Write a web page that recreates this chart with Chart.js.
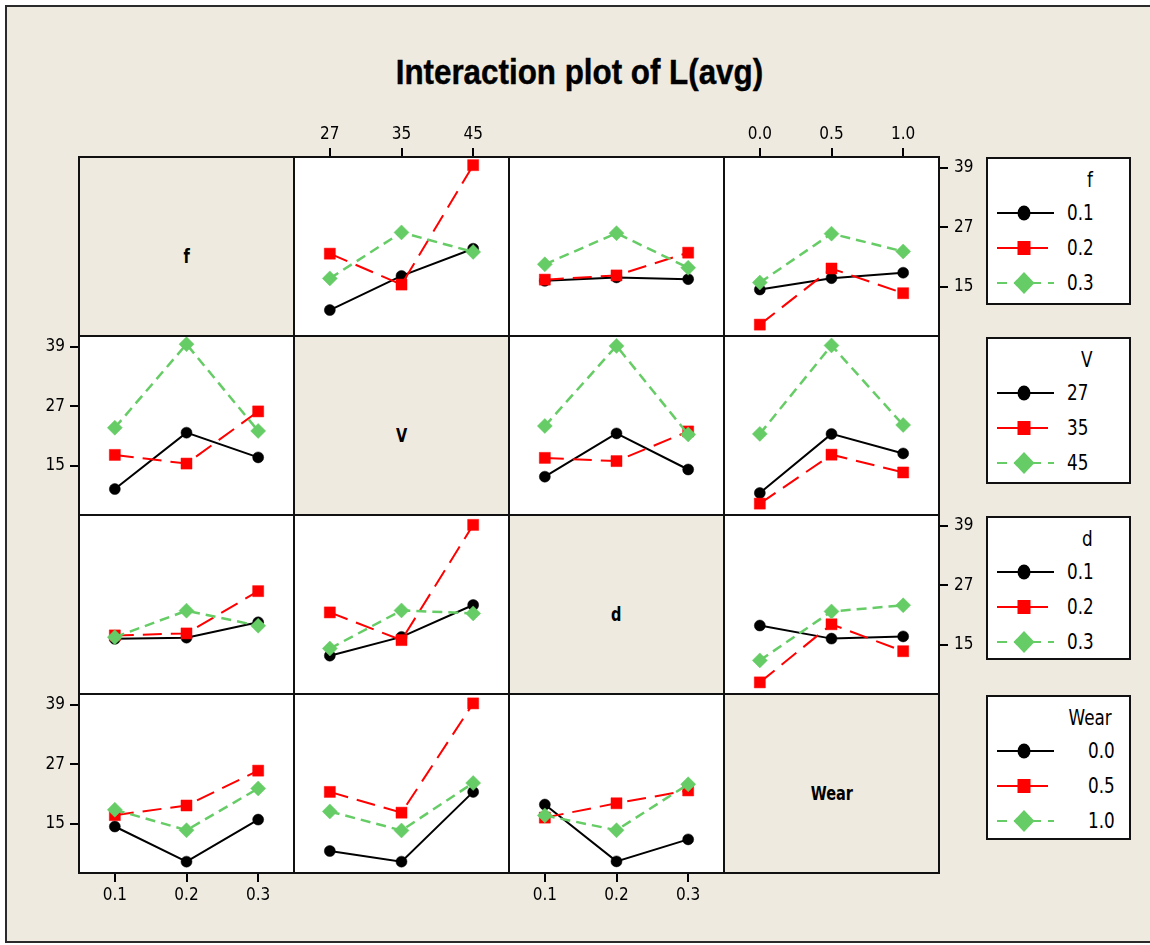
<!DOCTYPE html>
<html>
<head>
<meta charset="utf-8">
<title>Interaction plot of L(avg)</title>
<script src="https://cdn.jsdelivr.net/npm/chart.js@4.4.1/dist/chart.umd.min.js"></script>
<style>
  html, body { margin: 0; padding: 0; background: #ffffff; }
  #page { position: relative; width: 1150px; height: 945px; overflow: hidden; background: #ffffff; }
  #frame { position: absolute; left: 5px; top: 5px; width: 1170px; height: 938px; box-sizing: border-box;
           border: 2px solid #2a2a2a; background: #EEEAE0; }
  #title { position: absolute; left: 0; width: 1158px; top: 53px; text-align: center;
           font: bold 33px "Liberation Sans", Arial, sans-serif; color: #000; }
  #title span { display: inline-block; transform: scale(0.95, 1.05); -webkit-text-stroke: 0.4px #000; }
  .panel { position: absolute; }
  .outline { position: absolute; box-sizing: border-box; border: 2px solid #111; pointer-events: none; z-index: 5; }
  .diag { position: absolute; background: #EEEAE0; display: flex; align-items: center; justify-content: center;
          font: bold 19px "DejaVu Sans Condensed", "Liberation Sans", sans-serif; color: #000; }
  .diag span { position: relative; top: 9px; display: inline-block; transform: scaleX(0.85); }
  .legend { position: absolute; box-sizing: border-box; border: 2px solid #111; background: #fff;
            font: 22px "DejaVu Sans Condensed", "Liberation Sans", sans-serif; color: #000; z-index: 6; }
  .legend .ltitle { position: absolute; white-space: nowrap; transform: scaleX(0.85); transform-origin: right center; }
  .legend .litem { position: absolute; white-space: nowrap; line-height: 22px; transform: scaleX(0.85); transform-origin: left center; }
  .legend svg { position: absolute; left: 8px; }
</style>
</head>
<body>
<div id="page">
  <div id="frame"></div>
  <div id="title"><span>Interaction plot of L(avg)</span></div>
</div>
<script>
// Factors and their levels
const factorNames = ['f', 'V', 'd', 'Wear'];
const fLevels = ['0.1', '0.2', '0.3'];
const vLevels = ['27', '35', '45'];
const dLevels = ['0.1', '0.2', '0.3'];
const wearLevels = ['0.0', '0.5', '1.0'];

// Shared response axis
const yTicks = [15, 27, 39];
const yMin = 5.0;
const yMax = 41.2;

// Mean L(avg) per pair of factor levels: rows = levels of the first factor, columns = levels of the second
const meanFV = [
  [10.25, 17.15, 22.65],
  [21.65, 15.40, 39.55],
  [16.65, 25.95, 22.00]
];
const meanFD = [
  [16.15, 16.85, 16.50],
  [16.40, 17.25, 21.85],
  [19.50, 25.80, 18.80]
];
const meanFWear = [
  [14.40, 16.70, 17.80],
  [7.30, 18.65, 13.65],
  [15.80, 25.70, 22.10]
];
const meanVD = [
  [12.75, 21.50, 14.20],
  [16.55, 15.90, 21.90],
  [23.00, 39.20, 21.30]
];
const meanVWear = [
  [9.45, 21.40, 17.45],
  [7.30, 17.20, 13.60],
  [21.40, 39.30, 23.20]
];
const meanDWear = [
  [18.85, 16.20, 16.65],
  [7.35, 19.10, 13.65],
  [11.80, 21.70, 22.95]
];

const levels = [fLevels, vLevels, dLevels, wearLevels];
const pairTables = {
  '0-1': meanFV, '0-2': meanFD, '0-3': meanFWear,
  '1-2': meanVD, '1-3': meanVWear, '2-3': meanDWear
};

// Grid geometry of the matrix (cell edges)
const COL = [79, 294, 509, 724, 939];
const ROW = [157, 336, 515, 694, 873];
const AXIS = { top: 40, bottom: 40, left: 46, right: 46 };

const tickFont = '"DejaVu Sans Condensed", "Liberation Sans", sans-serif';

const seriesStyle = [
  { color: '#000000', dash: [], point: 'circle', radius: 5.5, width: 2, order: 2 },
  { color: '#FF0000', dash: [19, 9], point: 'rect', radius: 7.8, width: 2, order: 1 },
  { color: '#66CC66', dash: [10, 6], point: 'rectRot', radius: 7.5, width: 2.5, order: 0 }
];

function transpose(m) { return m[0].map((_, j) => m.map(r => r[j])); }

// rows of the returned matrix are the traced levels, columns the x levels
function seriesFor(traceIdx, xIdx) {
  if (traceIdx < xIdx) return pairTables[traceIdx + '-' + xIdx];
  return transpose(pairTables[xIdx + '-' + traceIdx]);
}

const page = document.getElementById('page');

function addOutline(x0, y0, x1, y1) {
  const o = document.createElement('div');
  o.className = 'outline';
  o.style.left = (x0 - 1) + 'px';
  o.style.top = (y0 - 1) + 'px';
  o.style.width = (x1 - x0 + 2) + 'px';
  o.style.height = (y1 - y0 + 2) + 'px';
  page.appendChild(o);
}

function makePanel(r, c) {
  const x0 = COL[c], x1 = COL[c + 1], y0 = ROW[r], y1 = ROW[r + 1];
  const showTop = r === 0 && (c === 1 || c === 3);
  const showBottom = r === 3 && (c === 0 || c === 2);
  const showLeft = c === 0 && (r === 1 || r === 3);
  const showRight = c === 3 && (r === 0 || r === 2);
  const xAxis = showTop || showBottom;
  const yAxis = showLeft || showRight;

  const padL = showLeft ? AXIS.left : 0;
  const padR = showRight ? AXIS.right : 0;
  const padT = showTop ? AXIS.top : 0;
  const padB = showBottom ? AXIS.bottom : 0;

  const w = x1 - x0 + padL + padR;
  const h = y1 - y0 + padT + padB;
  const canvas = document.createElement('canvas');
  canvas.className = 'panel';
  canvas.width = w;
  canvas.height = h;
  canvas.style.left = (x0 - padL) + 'px';
  canvas.style.top = (y0 - padT) + 'px';
  canvas.style.width = w + 'px';
  canvas.style.height = h + 'px';
  page.appendChild(canvas);

  const values = seriesFor(r, c);
  const traceLevels = levels[r];
  const datasets = values.map((row, k) => {
    const s = seriesStyle[k];
    return {
      label: traceLevels[k],
      data: row,
      borderColor: s.color,
      backgroundColor: s.color,
      borderWidth: s.width,
      borderDash: s.dash,
      pointStyle: s.point,
      pointRadius: s.radius,
      pointBackgroundColor: s.color,
      pointBorderColor: s.color,
      pointBorderWidth: 0.5,
      tension: 0,
      order: s.order,
      clip: false
    };
  });

  new Chart(canvas, {
    type: 'line',
    data: { labels: levels[c], datasets },
    plugins: [{
      id: 'panelBackground',
      beforeDraw(chart) {
        const a = chart.chartArea, ctx = chart.ctx;
        ctx.save();
        ctx.fillStyle = '#ffffff';
        ctx.fillRect(a.left, a.top, a.right - a.left, a.bottom - a.top);
        ctx.restore();
      }
    }],
    options: {
      responsive: false,
      animation: false,
      events: [],
      devicePixelRatio: 1,
      layout: { padding: 0, autoPadding: false },
      plugins: { legend: { display: false }, tooltip: { enabled: false }, title: { display: false } },
      scales: {
        x: {
          type: 'category',
          offset: true,
          display: xAxis,
          position: showTop ? 'top' : 'bottom',
          grid: { display: true, drawOnChartArea: false, drawTicks: true, tickLength: 9, color: '#000', lineWidth: 2 },
          border: { display: false },
          ticks: {
            color: '#000', padding: showTop ? 3 : 3, maxRotation: 0, autoSkip: false,
            font: { family: tickFont, size: 17 }
          },
          afterFit(s) {
            s.paddingLeft = 0; s.paddingRight = 0;
            if (xAxis) s.height = showTop ? AXIS.top : AXIS.bottom;
          }
        },
        y: {
          type: 'linear',
          min: yMin,
          max: yMax,
          display: yAxis,
          position: showRight ? 'right' : 'left',
          grid: { display: true, drawOnChartArea: false, drawTicks: true, tickLength: 9, color: '#000', lineWidth: 2 },
          border: { display: false },
          afterBuildTicks(s) { s.ticks = yTicks.map(v => ({ value: v })); },
          ticks: {
            color: '#000', padding: showRight ? 6 : 5,
            font: { family: tickFont, size: 17 }
          },
          afterFit(s) {
            s.paddingTop = 0; s.paddingBottom = 0;
            if (yAxis) s.width = showRight ? AXIS.right : AXIS.left;
          }
        }
      }
    }
  });
  addOutline(x0, y0, x1, y1);
}

function makeDiagonal(i) {
  const x0 = COL[i], x1 = COL[i + 1], y0 = ROW[i], y1 = ROW[i + 1];
  const d = document.createElement('div');
  d.className = 'diag';
  d.style.left = x0 + 'px';
  d.style.top = y0 + 'px';
  d.style.width = (x1 - x0) + 'px';
  d.style.height = (y1 - y0) + 'px';
  const s = document.createElement('span');
  s.textContent = factorNames[i];
  d.appendChild(s);
  page.appendChild(d);
  addOutline(x0, y0, x1, y1);
}

for (let r = 0; r < 4; r++) {
  for (let c = 0; c < 4; c++) {
    if (r === c) makeDiagonal(r); else makePanel(r, c);
  }
}

// Legend boxes: one per traced factor
const legendTops = [157, 337, 516, 695];
const legendBottoms = [305, 484, 660, 840];
const SVGNS = 'http://www.w3.org/2000/svg';

function sampleSvg(k) {
  const s = seriesStyle[k];
  const svg = document.createElementNS(SVGNS, 'svg');
  svg.setAttribute('width', '64');
  svg.setAttribute('height', '26');
  const line = document.createElementNS(SVGNS, 'line');
  line.setAttribute('x1', '1');
  line.setAttribute('x2', k === 1 ? '52' : '58');
  line.setAttribute('y1', '13');
  line.setAttribute('y2', '13');
  line.setAttribute('stroke', s.color);
  line.setAttribute('stroke-width', '2');
  if (k === 2) line.setAttribute('stroke-dasharray', '10 7');
  svg.appendChild(line);
  let m;
  if (k === 0) {
    m = document.createElementNS(SVGNS, 'ellipse');
    m.setAttribute('cx', '28'); m.setAttribute('cy', '13');
    m.setAttribute('rx', '6.5'); m.setAttribute('ry', '7.5');
  } else if (k === 1) {
    m = document.createElementNS(SVGNS, 'rect');
    m.setAttribute('x', '21.5'); m.setAttribute('y', '6');
    m.setAttribute('width', '13'); m.setAttribute('height', '14');
  } else {
    m = document.createElementNS(SVGNS, 'polygon');
    m.setAttribute('points', '28,2 38.5,13 28,24 17.5,13');
  }
  m.setAttribute('fill', s.color);
  svg.appendChild(m);
  return svg;
}

for (let i = 0; i < 4; i++) {
  const box = document.createElement('div');
  box.className = 'legend';
  const top = legendTops[i];
  box.style.left = '986px';
  box.style.top = top + 'px';
  box.style.width = (1131 - 986) + 'px';
  box.style.height = (legendBottoms[i] - top) + 'px';
  const wide = factorNames[i] === 'Wear';
  const title = document.createElement('div');
  title.className = 'ltitle';
  title.textContent = factorNames[i];
  title.style.right = (wide ? 17 : 36) + 'px';
  title.style.top = '8px';
  box.appendChild(title);
  const offsets = [56, 91, 126];
  levels[i].forEach((lv, k) => {
    const svg = sampleSvg(k);
    svg.style.top = (offsets[k] - 13 - 2) + 'px';
    box.appendChild(svg);
    const t = document.createElement('div');
    t.className = 'litem';
    t.textContent = lv;
    t.style.left = (wide ? 100 : 79) + 'px';
    t.style.top = (offsets[k] - 11 - 2) + 'px';
    box.appendChild(t);
  });
  page.appendChild(box);
}
</script>
</body>
</html>
